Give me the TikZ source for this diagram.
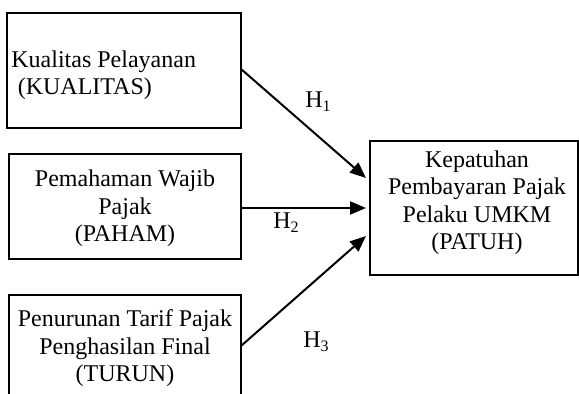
\documentclass[tikz,border=0pt]{standalone}
\usepackage{fontspec}
\setmainfont{Liberation Serif}
\usetikzlibrary{arrows.meta}
\begin{document}
\begin{tikzpicture}[x=0.5pt,y=-0.5pt,
  font=\fontsize{12}{13.75}\selectfont,
  box/.style={draw,line width=0.9pt,rectangle,inner sep=0pt},
  txt/.style={inner sep=0pt,anchor=base},
  hyp/.style={inner sep=0pt,anchor=base west},
  arr/.style={line width=1pt,-{Triangle[length=8pt,width=6.5pt]}}]
\useasboundingbox (0,0) rectangle (579,394);
\clip (0,0) rectangle (579,394);
% boxes
\node[box,minimum width=117pt,minimum height=57.5pt] (kual) at (124,70.5) {};
\node[box,minimum width=116pt,minimum height=52.5pt] (paham) at (125,206.5) {};
\node[box,minimum width=116pt,minimum height=62.5pt] (turun) at (125,357.5) {};
\node[box,minimum width=104pt,minimum height=67pt] (patuh) at (474,208) {};
% texts
\node[txt,anchor=base west,align=left] (tk) at (11,95) {Kualitas Pelayanan\\\hspace{3.2pt}(KUALITAS)};
\node[txt,align=center] (tp) at (125,242) {Pemahaman Wajib\\Pajak\\(PAHAM)};
\node[txt,align=center] (tt) at (125,382) {Penurunan Tarif Pajak\\Penghasilan Final\\(TURUN)};
\node[txt,align=center] (tpa) at (477,250) {Kepatuhan\\Pembayaran Pajak\\Pelaku UMKM\\(PATUH)};
% connectors
\coordinate (e1) at (366,178);
\coordinate (e2) at (366,208);
\coordinate (e3) at (366,236);
\coordinate (s1) at (241,69);
\coordinate (s2) at (241,208);
\coordinate (s3) at (241,346);
\draw[arr] (s1) -- (e1);
\draw[arr] (s2) -- (e2);
\draw[arr] (s3) -- (e3);
% labels
\node[hyp] (h1) at (305,108) {H\textsubscript{1}};
\node[hyp] (h2) at (273,229) {H\textsubscript{2}};
\node[hyp] (h3) at (303,348) {H\textsubscript{3}};
\end{tikzpicture}
\end{document}
